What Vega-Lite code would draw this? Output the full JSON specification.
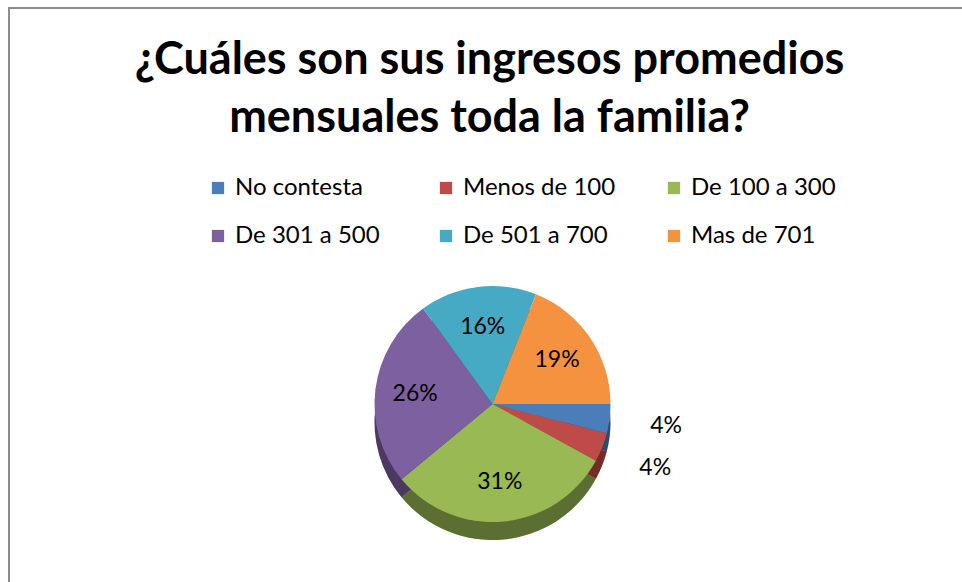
{
  "$schema": "https://vega.github.io/schema/vega-lite/v6.json",
  "autosize": {"type": "fit", "contains": "padding"},
  "width": 962,
  "height": 582,
  "padding": {"left": 9, "top": 8, "right": -14, "bottom": -8},
  "background": "white",
  "config": {
    "view": {"stroke": "#8c8c8c", "strokeWidth": 2},
    "font": "Lato"
  },
  "title": {
    "text": ["¿Cuáles son sus ingresos promedios", "mensuales toda la familia?"],
    "anchor": "middle",
    "orient": "top",
    "offset": -133,
    "dx": -3,
    "fontSize": 45,
    "fontWeight": "bold",
    "font": "Lato",
    "lineHeight": 58,
    "color": "black"
  },
  "data": {
    "values": [
      {"idx": 1, "categoria": "No contesta", "share": 0.04},
      {"idx": 2, "categoria": "Menos de 100", "share": 0.04},
      {"idx": 3, "categoria": "De 100 a 300", "share": 0.31},
      {"idx": 4, "categoria": "De 301 a 500", "share": 0.26},
      {"idx": 5, "categoria": "De 501 a 700", "share": 0.16},
      {"idx": 6, "categoria": "Mas de 701", "share": 0.19}
    ]
  },
  "layer": [
    {
      "mark": {"type": "point", "opacity": 0, "size": 0, "strokeWidth": 0},
      "encoding": {
        "x": {"field": "idx", "type": "quantitative", "axis": null, "scale": {"domain": [0, 10]}},
        "y": {"field": "share", "type": "quantitative", "axis": null, "scale": {"domain": [0, 1]}}
      }
    },
    {
      "mark": {"type": "arc", "outerRadius": 118, "xOffset": 0, "yOffset": 124},
      "encoding": {
        "theta": {"field": "share", "type": "quantitative", "stack": true, "scale": {"range": [1.5708, 7.854]}},
        "order": {"field": "idx", "type": "quantitative"},
        "color": {
          "field": "categoria",
          "type": "nominal",
          "scale": {
            "domain": ["No contesta", "Menos de 100", "De 100 a 300", "De 301 a 500", "De 501 a 700", "Mas de 701"],
            "range": ["#4a7ebb", "#be4b48", "#98b954", "#7d60a0", "#46aac5", "#f59240"]
          },
          "legend": {
            "title": null,
            "orient": "none",
            "direction": "horizontal",
            "legendX": 197,
            "legendY": 168,
            "columns": 3,
            "gridAlign": "all",
            "columnPadding": 46,
            "rowPadding": 24,
            "symbolType": "square",
            "symbolSize": 150,
            "symbolStrokeWidth": 0,
            "labelFontSize": 24,
            "labelFont": "Lato",
            "labelColor": "black",
            "labelOffset": 5,
            "labelLimit": 300,
            "padding": 0
          }
        }
      }
    },
    {
      "mark": {"type": "arc", "outerRadius": 118, "xOffset": 0, "yOffset": 124, "fill": "black", "fillOpacity": 0.4},
      "encoding": {
        "theta": {"field": "share", "type": "quantitative", "stack": true},
        "order": {"field": "idx", "type": "quantitative"}
      }
    },
    {
      "mark": {"type": "arc", "outerRadius": 118, "xOffset": 0, "yOffset": 106},
      "encoding": {
        "theta": {"field": "share", "type": "quantitative", "stack": true},
        "order": {"field": "idx", "type": "quantitative"},
        "color": {"field": "categoria", "type": "nominal"}
      }
    },
    {
      "mark": {"type": "text", "radius": 78, "xOffset": 0, "yOffset": 106, "fontSize": 23, "font": "Lato", "color": "black"},
      "encoding": {
        "theta": {"field": "share", "type": "quantitative", "stack": true},
        "order": {"field": "idx", "type": "quantitative"},
        "text": {"condition": {"test": "datum.share >= 0.1", "field": "share", "type": "quantitative", "format": ".0%"}, "value": ""}
      }
    },
    {
      "mark": {"type": "text", "radius": 175, "xOffset": 0, "yOffset": 106, "fontSize": 23, "font": "Lato", "color": "black"},
      "encoding": {
        "theta": {"field": "share", "type": "quantitative", "stack": true},
        "order": {"field": "idx", "type": "quantitative"},
        "text": {"condition": {"test": "datum.share < 0.1", "field": "share", "type": "quantitative", "format": ".0%"}, "value": ""}
      }
    }
  ]
}
